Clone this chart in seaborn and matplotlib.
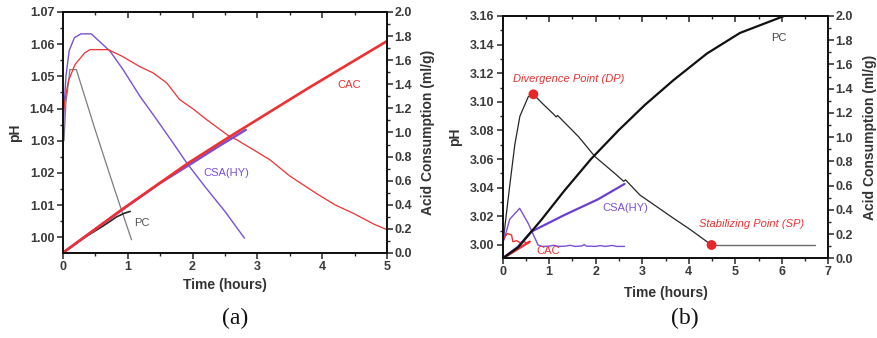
import matplotlib
matplotlib.use("Agg")
import matplotlib.pyplot as plt
from matplotlib.ticker import MultipleLocator, FormatStrFormatter
import seaborn as sns

sns.set_style("ticks")
plt.rcParams["font.family"] = ["Liberation Sans", "DejaVu Sans"]

RED = "#ee3030"
PURPLE = "#7b50d6"
GRAY = "#7d7d7d"
DARK = "#262626"
TXT = "#3a3a3a"

# ---------------- panel (a) ----------------
a_pc_t = [0.02, 0.05, 0.086, 0.11, 0.21, 0.5, 0.8, 1.06]
a_pc_ph = [1.030, 1.042, 1.0474, 1.0521, 1.0521, 1.0334, 1.0148, 0.9992]

a_csa_t = [0, 0.02, 0.05, 0.1, 0.18, 0.28, 0.44, 0.73, 0.93, 1.19, 1.45, 1.70, 1.91, 2.2, 2.5, 2.8]
a_csa_ph = [1.023, 1.040, 1.050, 1.058, 1.062, 1.0632, 1.0632, 1.0578, 1.0521, 1.0438,
            1.0365, 1.0293, 1.0231, 1.0155, 1.008, 0.9997]

a_cac_t = [0, 0.03, 0.086, 0.19, 0.34, 0.42, 0.70, 0.91, 1.19, 1.39, 1.60, 1.80, 2.0,
           2.22, 2.57, 2.68, 3.19, 3.5, 3.9, 4.2, 4.47, 4.8, 5.0]
a_cac_ph = [1.037, 1.042, 1.0485, 1.0537, 1.0573, 1.0583, 1.0583, 1.0563, 1.053, 1.0511,
            1.048, 1.0428, 1.040, 1.0365, 1.0313, 1.0303, 1.0241, 1.019, 1.0137, 1.010,
            1.0075, 1.004, 1.0023]

a_cac_acid_t = [0, 0.91, 1.93, 2.575, 3.77, 5.0]
a_cac_acid = [0, 0.36, 0.745, 0.966, 1.364, 1.76]
a_csa_acid_t = [0, 0.91, 1.5, 1.96, 2.4, 2.82]
a_csa_acid = [0, 0.357, 0.58, 0.735, 0.885, 1.022]
a_pc_acid_t = [0, 0.3, 0.625, 0.83, 0.95, 1.04]
a_pc_acid = [0, 0.117, 0.225, 0.30, 0.33, 0.345]

# ---------------- panel (b) ----------------
b_pc_t = [0.02, 0.08, 0.157, 0.26, 0.37, 0.55, 0.66, 0.85, 1.10, 1.15, 1.18, 1.63, 1.985,
          2.41, 2.60, 2.64, 2.95, 3.67, 4.0, 4.49]
b_pc_ph = [3.005, 3.022, 3.043, 3.070, 3.090, 3.1036, 3.1053, 3.099, 3.0912, 3.0895, 3.0905,
           3.0757, 3.0617, 3.050, 3.0445, 3.0455, 3.0349, 3.0187, 3.0115, 3.0000]
b_tail_t = [4.49, 6.72]
b_tail_ph = [3.0000, 3.0000]

b_csa_t = [0, 0.03, 0.15, 0.365, 0.55, 0.76, 0.85, 1.0, 1.1, 1.2, 1.35, 1.45, 1.55, 1.7,
           1.75, 1.8, 2.0, 2.1, 2.2, 2.35, 2.45, 2.62]
b_csa_ph = [3.0245, 3.0035, 3.018, 3.0256, 3.015, 3.000, 2.9990, 2.9992, 2.9998, 2.9990,
            2.9992, 2.9998, 2.9990, 2.9993, 3.0003, 2.9992, 2.9990, 2.9996, 2.9990, 2.9997,
            2.9990, 2.9990]

b_cac_t = [0, 0.1, 0.19, 0.22, 0.3, 0.38, 0.45, 0.54]
b_cac_ph = [3.0035, 3.008, 3.007, 3.0023, 3.003, 3.0015, 3.0025, 3.001]

b_pc_acid_t = [0, 0.33, 0.83, 1.33, 1.9, 2.5, 3.06, 3.67, 4.39, 5.10, 6.05]
b_pc_acid = [0, 0.09, 0.317, 0.56, 0.82, 1.06, 1.267, 1.47, 1.69, 1.86, 2.0]
b_csa_acid_t = [0, 0.33, 0.615, 1.33, 2.05, 2.62]
b_csa_acid = [0, 0.096, 0.22, 0.358, 0.487, 0.614]
b_cac_acid_t = [0, 0.58]
b_cac_acid = [0, 0.137]

b_points_t = [0.66, 4.49]
b_points_ph = [3.1053, 3.000]

fig = plt.figure(figsize=(8.77, 3.38), dpi=100)
fig.patch.set_facecolor("white")

axA = fig.add_axes([0.0715, 0.2515, 0.3701, 0.713])
axB = fig.add_axes([0.5732, 0.2358, 0.3713, 0.7169])


def line(ax, x, y, color, lw):
    sns.lineplot(x=x, y=y, ax=ax, color=color, linewidth=lw, sort=False,
                 estimator=None, legend=False)


# panel (a) curves
line(axA, a_pc_t, a_pc_ph, GRAY, 0.9)
line(axA, a_csa_t, a_csa_ph, PURPLE, 1.0)
line(axA, a_cac_t, a_cac_ph, RED, 0.9)
axA2 = axA.twinx()
line(axA2, a_pc_acid_t, a_pc_acid, DARK, 1.2)
line(axA2, a_csa_acid_t, a_csa_acid, PURPLE, 1.8)
line(axA2, a_cac_acid_t, a_cac_acid, RED, 1.9)

# panel (b) curves
line(axB, b_pc_t, b_pc_ph, DARK, 0.9)
line(axB, b_tail_t, b_tail_ph, "#6a6a6a", 1.0)
line(axB, b_csa_t, b_csa_ph, PURPLE, 1.0)
line(axB, b_cac_t, b_cac_ph, RED, 1.0)
sns.scatterplot(x=b_points_t, y=b_points_ph, ax=axB, color="#e8262a", s=50,
                edgecolor="none", zorder=5, legend=False)
axB2 = axB.twinx()
line(axB2, b_cac_acid_t, b_cac_acid, RED, 1.8)
line(axB2, b_csa_acid_t, b_csa_acid, "#6a3fd0", 1.6)
line(axB2, b_pc_acid_t, b_pc_acid, "#111111", 1.6)


def style(ax, ax2, xlim, ylim, ymaj, yfmt):
    ax.set_xlim(*xlim)
    ax.set_ylim(*ylim)
    ax2.set_ylim(0, 2.0)
    ax.xaxis.set_major_locator(MultipleLocator(1))
    ax.xaxis.set_minor_locator(MultipleLocator(0.5))
    ax.yaxis.set_major_locator(MultipleLocator(ymaj))
    ax.yaxis.set_minor_locator(MultipleLocator(ymaj / 2))
    ax.yaxis.set_major_formatter(FormatStrFormatter(yfmt))
    ax2.yaxis.set_major_locator(MultipleLocator(0.2))
    ax2.yaxis.set_minor_locator(MultipleLocator(0.1))
    ax2.yaxis.set_major_formatter(FormatStrFormatter("%.1f"))
    for a in (ax, ax2):
        for s in a.spines.values():
            s.set_visible(True)
            s.set_linewidth(1.3)
            s.set_color("#111111")
    ax.tick_params(axis="y", which="major", direction="out", length=4, width=1.1,
                   pad=2, labelsize=9, labelcolor=TXT)
    ax.tick_params(axis="y", which="minor", direction="out", length=2.5, width=1.0)
    ax.tick_params(axis="x", which="major", direction="out", length=4, width=1.1,
                   pad=1.5, labelsize=9, labelcolor=TXT)
    ax.tick_params(axis="x", which="minor", direction="out", length=2.5, width=1.0)
    ax2.tick_params(axis="y", which="major", direction="out", length=4, width=1.1,
                    pad=1, labelsize=9, labelcolor=TXT)
    ax2.tick_params(axis="y", which="minor", direction="out", length=2.5, width=1.0)
    # inward ticks along the top frame
    top = ax.secondary_xaxis("top")
    top.xaxis.set_major_locator(MultipleLocator(1))
    top.xaxis.set_minor_locator(MultipleLocator(0.5))
    top.tick_params(axis="x", which="major", direction="in", length=4, width=1.1,
                    labeltop=False)
    top.tick_params(axis="x", which="minor", direction="in", length=2.5, width=1.0)
    top.spines["top"].set_linewidth(1.3)
    for lab in ax.get_xticklabels() + ax.get_yticklabels() + ax2.get_yticklabels():
        lab.set_fontweight("bold")
    ax.set_xlabel("Time (hours)", fontsize=10, fontweight="bold", color="#333333")
    ax.set_ylabel("pH", fontsize=10, fontweight="bold", color="#333333")
    ax2.set_ylabel("Acid Consumption (ml/g)", fontsize=10, fontweight="bold",
                   color="#333333", rotation=90)


style(axA, axA2, (0, 5), (0.9951, 1.07), 0.01, "%.2f")
style(axB, axB2, (0, 7), (2.9907, 3.16), 0.02, "%.2f")

axA.xaxis.set_label_coords(0.5, -0.133)
axA.xaxis.label.set_va("center")
axA.yaxis.set_label_coords(-0.147, 0.5)
axA.yaxis.label.set_va("center")
axA2.yaxis.set_label_coords(1.125, 0.5)
axA2.yaxis.label.set_va("center")

axB.xaxis.set_label_coords(0.5, -0.142)
axB.xaxis.label.set_va("center")
axB.yaxis.set_label_coords(-0.1465, 0.5)
axB.yaxis.label.set_va("center")
axB2.yaxis.set_label_coords(1.128, 0.5)
axB2.yaxis.label.set_va("center")

# curve labels
axA.text(4.42, 1.0474, "CAC", color=RED, fontsize=8, ha="center", va="center")
axA.text(2.52, 1.020, "CSA(HY)", color=PURPLE, fontsize=8, ha="center", va="center")
axA.text(1.215, 1.0045, "PC", color="#555555", fontsize=8, ha="center", va="center")

axB.text(5.93, 3.1444, "PC", color="#444444", fontsize=8, ha="center", va="center")
axB.text(2.63, 3.0256, "CSA(HY)", color=PURPLE, fontsize=8, ha="center", va="center")
axB.text(0.98, 2.9955, "CAC", color=RED, fontsize=8, ha="center", va="center")
axB.text(1.41, 3.116, "Divergence Point (DP)", color=RED, fontsize=8,
         fontstyle="italic", ha="center", va="center")
axB.text(5.35, 3.0147, "Stabilizing Point (SP)", color=RED, fontsize=8,
         fontstyle="italic", ha="center", va="center")

fig.text(0.268, 0.059, "(a)", family=["Liberation Serif", "DejaVu Serif"],
         fontsize=17, ha="center", va="center", color="#111111")
fig.text(0.781, 0.059, "(b)", family=["Liberation Serif", "DejaVu Serif"],
         fontsize=17, ha="center", va="center", color="#111111")

fig.savefig("out.png", dpi=100, facecolor="white")
